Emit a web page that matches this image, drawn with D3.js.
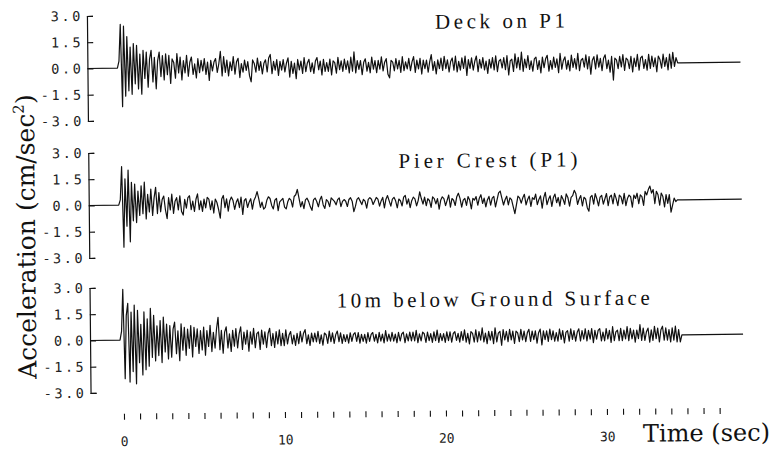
<!DOCTYPE html>
<html>
<head>
<meta charset="utf-8">
<script src="https://cdn.jsdelivr.net/npm/d3@7"></script>
<style>
  body { margin: 0; background: #fff; }
  svg { display: block; }
</style>
</head>
<body>
<svg id="chart" width="771" height="456"></svg>
<script>
// ---- data ----
const panelTitles = ["Deck on P1", "Pier Crest (P1)", "10m below Ground Surface"];
const yTickValues = [3.0, 1.5, 0.0, -1.5, -3.0];
const xLabelValues = [0, 10, 20, 30];
const secondTicks = d3.range(0, 38);
const recordStart = -2.06;   // sec, trace starts at the axis
const recordEnd = 38.5;      // sec, flat line ends here
const startTime = -0.1;      // first sample
const step = 0.1;            // sample spacing, sec

// acceleration, cm/sec^2, one row = 1 sec
const deckAcc = [
  0.4, 2.5, -2.2, 2.4, -1.6, 1.8, -1.3, 1.2, -1.5, 1.4,
  -0.9, 1.3, -1.2, 0.8, -1.5, 1.0, -0.6, 0.9, -1.1, 0.5,
  1.0, -0.8, 0.6, -1.2, 0.4, 0.9, -0.5, 0.7, -0.7, 0.8,
  -0.4, 0.7, -0.9, 0.5, 0.3, -0.6, 0.8, -0.3, 0.6, -0.7,
  0.4, -0.3, 0.7, -0.5, 0.3, 0.6, -0.4, 0.2, -0.6, 0.5,
  -0.3, 0.4, -0.2, 0.5, -0.4, 0.3, -0.75, 0.4, -0.2, 0.3,
  0.5, -0.3, 0.2, 0.9, -0.5, 0.6, -0.3, 0.4, -0.5, 0.3,
  -0.2, 0.6, -0.4, 0.3, 0.5, -0.6, 0.2, -0.3, 0.4, -0.2,
  0.3, -0.5, -0.85, 0.4, 0.2, -0.3, 0.5, -0.2, 0.3, -0.4,
  0.2, 0.4, -0.3, 0.5, 0.7, -0.4, 0.3, -0.2, 0.4, -0.5,
  0.3, -0.2, 0.4, -0.3, 0.2, 0.5, -0.6, 0.3, -0.4, 0.2,
  -0.7, 0.4, -0.2, 0.3, -0.4, 0.5, -0.3, 0.2, 0.4, -0.3,
  0.2, -0.4, 0.3, 0.5, -0.2, 0.3, -0.5, 0.4, -0.3, 0.2,
  -0.3, 0.4, -0.5, 0.3, 0.2, -0.4, 0.5, -0.2, 0.3, -0.3,
  0.4, -0.2, 0.3, -0.4, 0.5, -0.3, 0.8, -0.4, 0.3, -0.2,
  0.3, -0.5, 0.2, 0.4, -0.3, 0.2, -0.4, 0.5, -0.2, 0.3,
  -0.4, 0.3, -0.2, 0.5, -0.3, 0.2, 0.4, -0.5, -0.7, 0.3,
  0.2, -0.3, 0.4, -0.2, 0.3, -0.4, 0.5, -0.3, 0.2, -0.2,
  0.4, -0.3, 0.2, 0.5, -0.4, 0.3, -0.2, 0.4, -0.5, 0.3,
  -0.2, 0.3, -0.4, 0.2, 0.6, -0.3, 0.2, -0.5, 0.3, -0.2,
  0.4, -0.3, 0.5, -0.2, 0.3, -0.4, 0.2, 0.4, -0.3, 0.5,
  -0.4, 0.2, -0.3, 0.4, -0.2, 0.5, -0.6, 0.3, -0.2, 0.4,
  -0.3, 0.2, 0.5, -0.4, 0.3, -0.2, 0.4, -0.3, 0.2, -0.5,
  0.3, -0.2, 0.4, -0.3, 0.5, -0.4, 0.2, 0.3, -0.2, 0.4,
  -0.3, 0.5, -0.6, 0.2, 0.3, -0.4, 0.6, -0.2, 0.4, -0.3,
  0.7, -0.4, 0.3, -0.2, 0.5, -0.3, 0.2, -0.4, 0.3, 0.4,
  -0.3, 0.2, -0.5, 0.4, -0.2, 0.3, 0.5, -0.4, 0.2, -0.3,
  0.4, -0.2, 0.3, -0.5, 0.6, -0.3, 0.2, 0.4, -0.3, 0.2,
  -0.4, 0.5, -0.2, 0.3, -0.3, 0.6, -0.4, 0.2, 0.3, -0.2,
  0.5, -0.3, 0.4, -0.6, 0.2, 0.4, -0.3, 0.5, -0.2, 0.3,
  -0.4, 0.3, 0.5, -0.3, 0.2, -0.5, 0.4, -0.95, 0.3, 0.2,
  -0.3, 0.4, -0.2, 0.5, -0.4, 0.3, 0.2, -0.3, 0.4, -0.5,
  0.3, -0.2, 0.5, -0.4, 0.3, 0.4, -0.3, 0.2, -0.4, 0.5,
  -0.3, 0.4, -0.2, 0.3, -0.5, 0.4, 0.2, -0.3, 0.5, -0.2,
  0.3, -0.4, 0.5, -0.3, 0.6, -0.2, 0.3, 0, 0, 0
];

const pierAcc = [
  0.3, 2.2, -2.4, 1.5, -1.2, 2.0, -2.1, 1.3, -0.9, 1.2,
  -1.0, 0.8, -0.6, 1.1, -0.5, 1.3, -0.8, 0.6, -0.4, 0.9,
  -0.6, 0.4, 1.0, -0.5, 0.7, -0.4, 0.3, 0.5, -0.3, -0.8,
  0.4, -0.3, 0.6, -0.5, 0.2, 0.4, -0.3, 0.5, -0.4, -0.6,
  0.3, -0.2, 0.4, 0.5, -0.3, 0.2, -0.4, 0.3, 0.6, -0.3,
  0.2, -0.4, 0.3, -0.2, 0.4, 0.3, -0.3, 0.2, -0.5, 0.3,
  0.1, -0.3, -0.8, 0.3, 0.5, -0.2, 0.3, -0.4, 0.2, 0.4,
  0.2, -0.3, 0.1, 0.3, -0.2, 0.4, -0.6, 0.2, 0.3, -0.2,
  0.1, 0.3, -0.3, 0.2, 0.4, 0.7, 0.3, -0.2, 0.1, -0.3,
  -0.2, 0.2, 0.4, 0.3, -0.1, -0.3, 0.2, 0.3, -0.4, 0.1,
  0.2, 0.3, -0.2, -0.3, 0.1, 0.3, 0.2, -0.2, 0.4, 0.5,
  0.8, 0.3, -0.2, 0.1, -0.3, 0.2, 0.3, 0.1, -0.2, -0.4,
  0.2, 0.3, 0.1, -0.2, 0.2, 0.4, -0.1, -0.3, 0.2, 0.1,
  -0.2, 0.3, 0.2, 0.1, -0.1, 0.2, 0.3, -0.2, 0.1, 0.2,
  0.1, -0.2, 0.2, 0.3, 0.1, -0.5, -0.2, 0.2, 0.3, 0.1,
  -0.1, 0.2, 0.1, -0.3, 0.2, 0.3, 0.2, -0.1, 0.1, 0.3,
  0.2, -0.2, 0.1, 0.3, -0.3, 0.2, 0.4, 0.1, -0.2, 0.2,
  0.3, 0.1, -0.3, 0.2, 0.1, -0.2, 0.3, 0.4, -0.1, 0.2,
  -0.3, 0.1, 0.3, 0.2, -0.2, 0.1, 0.6, 0.2, -0.1, 0.3,
  -0.2, 0.2, 0.1, -0.3, 0.3, 0.2, -0.1, 0.2, -0.4, 0.1,
  0.3, 0.2, -0.2, 0.1, 0.4, -0.3, 0.2, 0.1, -0.2, 0.3,
  0.5, 0.2, -0.3, 0.1, 0.2, -0.2, 0.3, 0.1, -0.4, 0.2,
  0.1, 0.3, -0.2, 0.2, 0.4, -0.1, 0.2, -0.3, 0.1, 0.3,
  -0.2, 0.2, 0.3, -0.3, 0.1, 0.5, 0.6, 0.2, -0.2, 0.1,
  0.3, -0.2, 0.2, 0.1, -0.3, -0.7, -0.2, 0.3, 0.2, -0.1,
  0.2, 0.4, -0.2, 0.1, 0.3, -0.3, 0.2, 0.1, 0.4, -0.2,
  0.1, 0.3, -0.4, 0.2, 0.5, -0.2, 0.1, 0.3, -0.3, 0.2,
  0.4, -0.1, 0.2, -0.3, 0.3, 0.1, -0.2, 0.4, 0.2, -0.3,
  0.2, 0.3, 0.6, 0.4, -0.2, 0.1, 0.3, -0.3, 0.2, 0.1,
  -0.4, -0.6, 0.2, 0.3, -0.2, 0.4, 0.1, -0.3, 0.2, 0.3,
  -0.2, 0.1, 0.4, -0.3, 0.2, 0.3, -0.2, 0.4, 0.1, -0.3,
  0.3, 0.2, -0.2, 0.4, -0.3, 0.1, 0.3, 0.2, -0.4, 0.3,
  0.1, 0.4, -0.2, 0.3, 0.2, -0.3, 0.5, 0.3, 0.6, 0.8,
  0.4, 0.6, -0.2, 0.5, 0.3, -0.3, 0.4, 0.2, -0.4, 0.3,
  -0.2, 0.3, -0.7, -0.3, 0.1, -0.1, 0, 0, 0, 0
];

const groundAcc = [
  0.5, 2.9, -2.2, 1.4, 2.1, -2.4, 1.6, -1.8, 2.0, -2.5,
  1.7, -1.3, 0.9, -2.0, 1.6, -1.7, 1.2, -1.5, 1.8, -1.0,
  1.4, -1.2, 0.8, -0.9, 1.1, -1.3, 1.3, -0.7, 0.9, -1.1,
  0.8, -1.0, 0.6, 1.0, -0.8, 0.5, -1.2, 0.9, -0.6, 0.7,
  -0.9, 0.6, -0.5, 0.8, -1.0, 0.7, -0.4, 0.6, -0.8, 0.5,
  -0.6, 0.7, -0.9, 0.5, -0.4, 0.8, -0.7, 0.4, -0.5, 0.6,
  1.25, -0.6, 0.5, -0.8, 0.4, 0.7, -0.5, 0.3, -0.7, 0.5,
  -0.4, 0.6, -0.5, 0.3, 0.7, -0.6, 0.4, -0.3, 0.5, -0.7,
  0.4, -0.3, 0.6, -0.5, 0.3, 0.4, -0.6, 0.5, -0.3, 0.4,
  -0.5, 0.3, 0.6, -0.4, 0.3, -0.5, 0.4, -0.3, 0.5, -0.4,
  0.3, -0.4, 0.5, -0.3, 0.2, 0.4, -0.3, 0.2, -0.4, 0.3,
  -0.3, 0.4, -0.2, 0.3, 0.5, -0.3, 0.2, -0.4, 0.3, -0.2,
  0.3, -0.2, 0.4, -0.3, 0.2, -0.4, 0.3, 0.2, -0.3, 0.4,
  -0.2, 0.3, -0.3, 0.2, 0.4, -0.2, 0.3, -0.3, 0.2, -0.2,
  0.2, -0.3, 0.3, -0.2, 0.2, 0.3, -0.2, 0.3, -0.3, 0.2,
  -0.2, 0.2, -0.3, 0.3, -0.2, 0.2, 0.3, -0.2, 0.2, -0.3,
  0.3, -0.2, 0.2, -0.3, 0.4, -0.2, 0.2, -0.2, 0.3, -0.2,
  0.2, -0.3, 0.3, -0.2, 0.2, 0.3, -0.3, 0.2, -0.2, 0.3,
  -0.2, 0.3, -0.2, 0.4, -0.3, 0.2, -0.2, 0.3, 0.2, -0.3,
  0.3, -0.2, 0.2, -0.3, 0.3, -0.2, 0.4, -0.3, 0.2, -0.2,
  0.2, -0.3, 0.3, -0.2, 0.3, -0.3, 0.2, 0.3, -0.2, 0.2,
  -0.3, 0.3, -0.2, 0.4, -0.3, 0.2, -0.4, 0.3, 0.2, -0.3,
  0.4, -0.3, 0.3, -0.2, 0.5, -0.3, 0.2, -0.4, 0.3, -0.2,
  0.3, -0.4, 0.5, -0.3, 0.2, 0.3, -0.5, 0.4, -0.2, 0.3,
  -0.3, 0.4, -0.2, 0.3, -0.4, 0.3, 0.2, -0.3, 0.4, -0.2,
  0.3, -0.3, 0.2, 0.4, -0.3, 0.3, -0.2, 0.3, -0.4, 0.2,
  0.4, -0.5, 0.3, -0.2, 0.3, -0.3, 0.4, -0.2, 0.3, -0.3,
  0.2, -0.3, 0.4, -0.2, 0.3, -0.4, 0.2, 0.3, -0.3, 0.4,
  -0.2, 0.3, -0.3, 0.2, 0.4, -0.3, 0.3, -0.2, 0.4, -0.3,
  0.3, -0.2, 0.4, -0.4, 0.3, -0.2, 0.3, 0.4, -0.3, 0.2,
  -0.3, 0.4, -0.2, 0.3, -0.4, 0.5, -0.3, 0.2, 0.3, -0.3,
  0.4, -0.3, 0.3, -0.2, 0.5, -0.3, 0.4, -0.2, 0.3, -0.4,
  0.3, -0.2, 0.6, -0.3, 0.4, -0.3, 0.2, 0.4, -0.4, 0.3,
  -0.3, 0.5, -0.2, 0.4, -0.4, 0.3, 0.5, -0.3, 0.4, -0.3,
  0.3, -0.4, 0.4, -0.3, 0.5, -0.4, 0.3, -0.4, 0, 0
];

const series = [deckAcc, pierAcc, groundAcc];

// ---- layout ----
const panelTop = [13, 150, 285];
const panelHeight = 105;
const axisX = 89;
// title: x, baseline, width it spans
const titlePos = [[437, 29, 130], [399, 168, 179], [336, 307, 313]];
const ink = "#111";

const svg = d3.select("#chart");
// the scanned page is turned a little; follow it
const root = svg.append("g").attr("transform", "rotate(-0.55 400 230)");

const x = d3.scaleLinear().domain([0, 37]).range([122.2, 717.9]);

const line = d3.line()
  .x(d => x(d[0]))
  .y(d => d[1]);

series.forEach((vals, i) => {
  const y = d3.scaleLinear().domain([-3, 3]).range([panelTop[i] + panelHeight, panelTop[i]]);
  const g = root.append("g");

  const yAxis = g.append("g")
    .attr("transform", `translate(${axisX},0)`)
    .call(d3.axisLeft(y)
      .tickValues(yTickValues)
      .tickSizeInner(-6)
      .tickSizeOuter(-6)
      .tickPadding(4)
      .tickFormat(v => v.toFixed(1)));
  yAxis.select(".domain").attr("stroke", ink).attr("stroke-width", 1.2);
  yAxis.selectAll(".tick line").attr("stroke", ink).attr("stroke-width", 1.2);
  yAxis.selectAll(".tick text")
    .attr("fill", "#222")
    .attr("font-family", "DejaVu Sans Mono, monospace")
    .attr("font-size", 13.5)
    .attr("letter-spacing", 2.6);

  const pts = [[recordStart, 0], [startTime - step, 0]];
  vals.forEach((v, k) => pts.push([startTime + k * step, v]));
  pts.push([recordEnd, 0]);

  g.append("path")
    .datum(pts)
    .attr("fill", "none")
    .attr("stroke", ink)
    .attr("stroke-width", 1.2)
    .attr("stroke-linejoin", "round")
    .attr("d", line.y(d => y(d[1])));

  g.append("text")
    .attr("x", titlePos[i][0])
    .attr("y", titlePos[i][1])
    .attr("font-family", "Liberation Serif, Times New Roman, serif")
    .attr("font-size", 21)
    .attr("textLength", titlePos[i][2])
    .attr("lengthAdjust", "spacing")
    .attr("fill", ink)
    .text(panelTitles[i]);
});

// time axis: a tick every second, numbers every ten
const xAxis = root.append("g")
  .attr("transform", "translate(0,411)")
  .call(d3.axisBottom(x)
    .tickValues(secondTicks)
    .tickSize(6)
    .tickPadding(17)
    .tickFormat(d => xLabelValues.includes(d) ? d : ""));
xAxis.select(".domain").remove();
xAxis.selectAll(".tick line").attr("stroke", ink).attr("stroke-width", 1.1);
xAxis.selectAll(".tick text")
  .attr("fill", "#222")
  .attr("font-family", "DejaVu Sans Mono, monospace")
  .attr("font-size", 13);

root.append("text")
  .attr("x", 768)
  .attr("y", 444)
  .attr("text-anchor", "end")
  .attr("font-family", "DejaVu Serif, serif")
  .attr("font-size", 24)
  .attr("fill", ink)
  .text("Time (sec)");

const yLabel = root.append("text")
  .attr("transform", "translate(35,233) rotate(-90)")
  .attr("text-anchor", "middle")
  .attr("font-family", "DejaVu Serif, serif")
  .attr("font-size", 25)
  .attr("fill", ink);
yLabel.append("tspan").text("Acceleration (cm/sec");
yLabel.append("tspan").attr("dy", -10).attr("font-size", 15).text("2");
yLabel.append("tspan").attr("dy", 10).text(")");
</script>
</body>
</html>
